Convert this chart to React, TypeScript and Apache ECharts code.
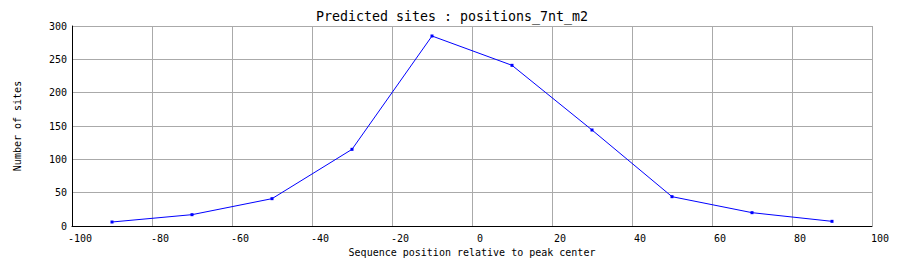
import React, { useEffect, useRef } from "react";
import * as echarts from "echarts";

const positions = [-90, -70, -50, -30, -10, 10, 30, 50, 70, 90];
const siteCounts = [6, 17, 41, 115, 285, 241, 144, 44, 20, 7];
const titleText = "Predicted sites : positions_7nt_m2";
const xAxisTitle = "Sequence position relative to peak center";
const yAxisTitle = "Number of sites";

const FONT = "'DejaVu Sans Mono', 'Liberation Mono', monospace";

export default function App() {
  const ref = useRef<HTMLDivElement>(null);
  useEffect(() => {
    if (!ref.current) return;
    const chart = echarts.init(ref.current, undefined, { renderer: "svg" });
    chart.setOption({
      animation: false,
      backgroundColor: "#ffffff",
      title: {
        text: titleText,
        left: "center",
        top: 10,
        padding: 0,
        textStyle: { fontFamily: FONT, fontSize: 13.3, fontWeight: "normal", color: "#000" },
      },
      grid: { left: 72, right: 32, top: 26, bottom: 52, containLabel: false },
      xAxis: {
        type: "value",
        min: -100,
        max: 100,
        interval: 20,
        name: xAxisTitle,
        nameLocation: "middle",
        nameGap: 21,
        nameTextStyle: { fontFamily: FONT, fontSize: 10, color: "#000" },
        axisLine: { show: true, onZero: false, lineStyle: { color: "#000", width: 1 } },
        axisTick: { show: false },
        axisLabel: {
          fontFamily: FONT,
          fontSize: 10,
          color: "#000",
          margin: 7,
          padding: [0, 0, 0, 16],
        },
        splitLine: { show: true, lineStyle: { color: "#aaaaaa", width: 1 } },
      },
      yAxis: {
        type: "value",
        min: 0,
        max: 300,
        interval: 50,
        name: yAxisTitle,
        nameLocation: "middle",
        nameGap: 50,
        nameTextStyle: { fontFamily: FONT, fontSize: 10, color: "#000" },
        axisLine: { show: true, onZero: false, lineStyle: { color: "#000", width: 1 } },
        axisTick: { show: false },
        axisLabel: {
          fontFamily: FONT,
          fontSize: 10,
          color: "#000",
          margin: 5,
          padding: [6, 0, 0, 0],
        },
        splitLine: { show: true, lineStyle: { color: "#aaaaaa", width: 1 } },
      },
      series: [
        {
          type: "line",
          data: positions.map((p, i) => [p, siteCounts[i]]),
          lineStyle: { color: "#0000ff", width: 1 },
          itemStyle: { color: "#0000ff" },
          symbol: "rect",
          symbolSize: 3,
          showSymbol: true,
        },
      ],
    });
    return () => chart.dispose();
  }, []);
  return (
    <div
      ref={ref}
      style={{ position: "fixed", left: 0, top: 0, width: 904, height: 278 }}
    />
  );
}
